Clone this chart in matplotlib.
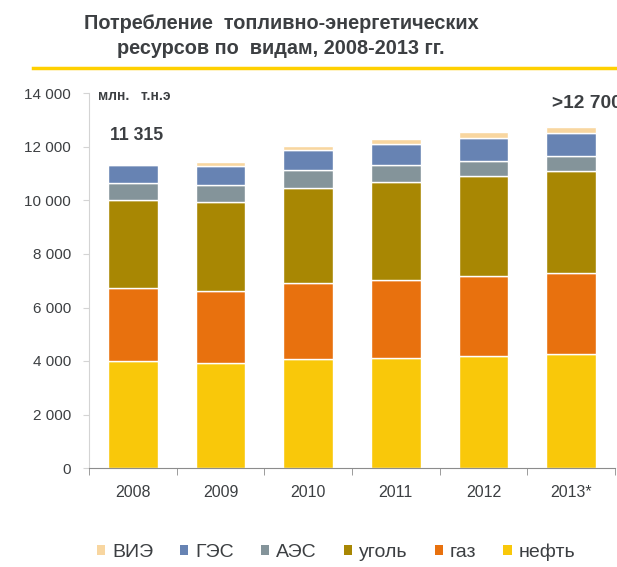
import matplotlib
matplotlib.use("Agg")
import matplotlib.pyplot as plt
from matplotlib.lines import Line2D
from matplotlib.ticker import FuncFormatter, FixedLocator
import numpy as np

plt.rcParams['font.family'] = ['Liberation Sans', 'DejaVu Sans']

years = ["2008", "2009", "2010", "2011", "2012", "2013*"]

# млн. т.н.э, снизу вверх
neft = [4000, 3925, 4075, 4110, 4185, 4260]
gaz = [2730, 2685, 2840, 2920, 2995, 3030]
ugol = [3290, 3320, 3555, 3660, 3735, 3825]
aes = [620, 640, 670, 640, 575, 550]
ges = [675, 730, 750, 780, 835, 870]
vie = [0, 130, 150, 190, 225, 225]

series_names = ["нефть", "газ", "уголь", "АЭС", "ГЭС", "ВИЭ"]
series_values = [neft, gaz, ugol, aes, ges, vie]
series_colors = ["#F9C80A", "#E8710E", "#A88703", "#84949A", "#6783B3", "#F8D6A0"]

TEXT = "#3C3F42"

fig = plt.figure(figsize=(6.17, 5.67), dpi=100)
ax = fig.add_axes([89 / 617, 1 - 468 / 567, 526 / 617, (468 - 93.5) / 567])

x = np.arange(len(years))
bottom = np.zeros(len(years))
handles = []
for name, vals, col in zip(series_names, series_values, series_colors):
    b = ax.bar(x, vals, width=0.57, bottom=bottom, color=col,
               edgecolor="white", linewidth=1, label=name)
    handles.append(b)
    bottom += np.array(vals)

ax.set_xlim(-0.5, len(years) - 0.5)
ax.set_ylim(0, 14000)
ax.set_yticks(np.arange(0, 14001, 2000))
ax.yaxis.set_major_formatter(FuncFormatter(lambda v, p: f"{int(v):,}".replace(",", " ")))
ax.set_xticks(x)
ax.set_xticklabels(years)
ax.xaxis.set_minor_locator(FixedLocator(np.arange(-0.5, len(years), 1)))

for s in ["top", "right"]:
    ax.spines[s].set_visible(False)
ax.spines["left"].set_color("#D4D4D4")
ax.spines["bottom"].set_color("#8C8C8C")

ax.tick_params(axis="y", length=4, color="#D4D4D4", labelsize=11, labelcolor=TEXT, pad=9)
ax.tick_params(axis="x", which="major", length=0, labelsize=11.5, labelcolor=TEXT, pad=12)
ax.tick_params(axis="x", which="minor", length=5, color="#8C8C8C")

# title + yellow rule
fig.text(281 / 617, 1 - 36 / 567, "Потребление  топливно-энергетических\nресурсов по  видам, 2008-2013 гг.",
         ha="center", va="center", fontsize=14.3, fontweight="bold", color=TEXT, linespacing=1.4)
fig.add_artist(Line2D([33 / 617, 1.0], [1 - 68 / 567, 1 - 68 / 567],
                      transform=fig.transFigure, color="#FFD000", lw=2.5))

fig.text(98 / 617, 1 - 96 / 567, "млн.   т.н.э", ha="left", va="center",
         fontsize=10, fontweight="bold", color=TEXT)
fig.text(110 / 617, 1 - 135 / 567, "11 315", ha="left", va="center",
         fontsize=12.7, fontweight="bold", color=TEXT)
# cut off at the right edge, as in the original slide
fig.text(552 / 617, 1 - 103 / 567, ">12 700", ha="left", va="center",
         fontsize=13.8, fontweight="bold", color=TEXT)

leg = fig.legend(handles[::-1], series_names[::-1], loc="center left",
                 bbox_to_anchor=(97 / 617, 1 - 552 / 567), ncol=6, frameon=False,
                 fontsize=14, handlelength=0.42, handleheight=0.42,
                 handletextpad=0.35, columnspacing=1.4, borderaxespad=0, borderpad=0)
for t in leg.get_texts():
    t.set_color(TEXT)
for h in leg.legend_handles:
    h.set_linewidth(0)

fig.savefig("out.png", dpi=100)
